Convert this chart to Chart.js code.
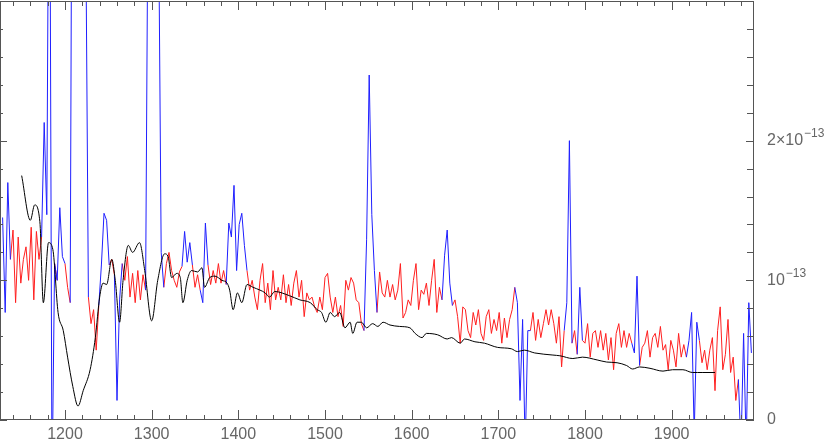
<!DOCTYPE html>
<html>
<head>
<meta charset="utf-8">
<script src="https://cdn.jsdelivr.net/npm/chart.js@4.4.1/dist/chart.umd.min.js"></script>
<style>
  html, body { margin: 0; padding: 0; background: #fff; }
  canvas { display: block; }
</style>
</head>
<body>
<canvas id="chart" width="830" height="441"></canvas>
<script>
/* ── observed spectrum: flux (1e-13 units) on a regular wavelength grid ── */
const specStart = 1125;
const specStep = 3;
const specFlux = [
  null, 1.45, 0.77, 1.70, 1.15, 1.36, 0.84, 1.31, 0.98, 1.15,
  1.24, 1.00, 1.38, 0.86, 1.35, 1.15, 1.31, 2.13, 1.47, 5.0,
  -0.5, 1.12, 1.00, 1.52, 1.17, 1.12, 0.95, 0.84, 6.0, 9.0,
  12.0, 10.0, 7.0, 3.5, 0.88, 0.69, 0.79, 0.50, 0.82, 1.11,
  1.48, 1.43, 1.11, 1.15, 1.04, 0.14, 0.86, 1.12, 1.00, 1.17,
  0.88, 1.05, 0.84, 1.07, 0.86, 1.04, 0.93, 4.0, 8.0, 10.0,
  7.0, 3.6, 1.20, 0.95, 1.12, 1.20, 1.07, 1.00, 0.95, 1.06,
  1.10, 1.35, 1.13, 1.27, 1.11, 0.95, 1.04, 0.93, 0.84, 1.41,
  1.11, 0.97, 1.07, 0.98, 1.12, 0.98, 1.07, 0.97, 1.41, 1.31,
  1.68, 1.07, 1.40, 1.48, 1.25, 1.07, 0.93, 1.00, 0.88, 0.79,
  1.00, 1.12, 0.84, 0.98, 0.79, 1.07, 0.86, 0.95, 0.86, 1.04,
  0.84, 0.97, 0.82, 0.98, 1.07, 0.88, 1.00, 0.74, 0.91, 0.86,
  0.88, 0.81, 0.77, 0.88, 0.79, 1.02, 1.05, 0.88, 0.77, 0.88,
  0.74, 0.82, 0.67, 1.00, 0.93, 1.02, 0.98, 0.86, 0.84, 0.69,
  0.64, 1.29, 2.47, 1.47, 1.07, 0.77, 1.06, 0.91, 0.88, 1.00,
  0.88, 0.97, 0.86, 0.93, 1.12, 0.73, 0.77, 0.86, 0.82, 1.00,
  1.12, 0.79, 0.93, 0.90, 0.98, 0.82, 1.00, 1.15, 0.77, 0.95,
  0.86, 1.18, 1.36, 0.98, 0.82, 0.86, 0.74, 0.55, 0.81, 0.79,
  0.64, 0.59, 0.77, 0.68, 0.79, 0.62, 0.57, 0.74, 0.79, 0.62,
  0.72, 0.64, 0.77, 0.55, 0.73, 0.59, 0.72, 0.79, 0.95, 0.84,
  0.14, 0.72, -0.2, 0.64, 0.64, 0.77, 0.57, 0.72, 0.59, 0.69,
  0.79, 0.68, 0.79, 0.69, 0.55, 0.74, 0.38, 0.64, 0.84, 2.00,
  0.55, 0.64, 0.47, 0.95, 0.57, 0.55, 0.69, 0.45, 0.62, 0.64,
  0.52, 0.64, 0.50, 0.62, 0.43, 0.59, 0.36, 0.62, 0.69, 0.52,
  0.64, 0.52, 0.62, 0.55, 0.48, 1.03, 0.39, 0.52, 0.55, 0.64,
  0.45, 0.59, 0.62, 0.52, 0.67, 0.50, 0.54, 0.36, 0.57, 0.50,
  0.38, 0.62, 0.45, 0.54, 0.45, 0.57, 0.77, -0.1, 0.70, 0.57,
  0.41, 0.50, 0.36, 0.50, 0.59, 0.21, 0.64, 0.81, 0.36, 0.47,
  0.72, 0.34, 0.45, 0.14, 0.29, -0.2, 0.62, -0.2, 0.84, 0.48
];

// wavelength windows drawn in blue (lines / masked parts of the spectrum)
const lineRanges = [
  [1128, 1137], [1173, 1188], [1191, 1200], [1206, 1227], [1239, 1251],
  [1257, 1266], [1293, 1314], [1335, 1347], [1356, 1365], [1386, 1410],
  [1545, 1560], [1635, 1647], [1719, 1737], [1776, 1785], [1791, 1797],
  [1854, 1863], [1917, 1932], [1977, 1992]
];

/* ── smooth model (black) ── */
const modelWave = [
  1150, 1160, 1165, 1171, 1175, 1181, 1186, 1192, 1198, 1203,
  1209, 1215, 1221, 1229, 1235, 1240, 1244, 1248, 1254, 1258,
  1263, 1267, 1273, 1278, 1286, 1292, 1300, 1307, 1315, 1319,
  1323, 1329, 1333, 1336, 1341, 1346, 1353, 1358, 1361, 1367,
  1373, 1381, 1387, 1390, 1394, 1399, 1404, 1410, 1417, 1425,
  1431, 1436, 1442, 1459, 1471, 1483, 1491, 1496, 1501, 1506,
  1511, 1517, 1523, 1529, 1532, 1537, 1542, 1548, 1555, 1561,
  1567, 1575, 1586, 1598, 1604, 1612, 1617, 1630, 1641, 1646,
  1656, 1661, 1673, 1684, 1699, 1715, 1722, 1730, 1742, 1763,
  1771, 1786, 1797, 1814, 1825, 1837, 1848, 1855, 1863, 1875,
  1890, 1901, 1913, 1924, 1930, 1936, 1950
];
const modelFlux = [
  1.75, 1.43, 1.54, 1.42, 0.84, 1.27, 1.22, 0.77, 0.64, 0.45,
  0.24, 0.10, 0.21, 0.36, 0.59, 0.88, 0.98, 0.97, 1.15, 1.00,
  0.70, 1.00, 1.25, 1.20, 1.27, 1.07, 0.71, 1.00, 1.19, 1.17,
  1.02, 1.05, 1.02, 0.84, 1.00, 1.07, 1.06, 1.09, 0.95, 1.02,
  1.03, 1.00, 0.98, 0.93, 0.79, 0.91, 0.84, 0.97, 0.95, 0.93,
  0.91, 0.88, 0.92, 0.89, 0.86, 0.84, 0.79, 0.77, 0.70, 0.77,
  0.74, 0.77, 0.66, 0.70, 0.62, 0.70, 0.70, 0.66, 0.69, 0.67,
  0.70, 0.68, 0.67, 0.66, 0.62, 0.59, 0.62, 0.61, 0.58, 0.59,
  0.55, 0.58, 0.56, 0.55, 0.52, 0.51, 0.49, 0.50, 0.48, 0.465,
  0.46, 0.44, 0.45, 0.43, 0.415, 0.41, 0.39, 0.365, 0.38, 0.37,
  0.35, 0.36, 0.36, 0.34, 0.34, 0.34, 0.34
];

/* ── axes ── */
const xRange = [1125, 1995];
const yRange = [0, 3];
const xMajorTicks = [1200, 1300, 1400, 1500, 1600, 1700, 1800, 1900];
const xMinorStep = 20;
const yMajorStep = 1;
const yMinorStep = 0.2;
const yTickValues = [0, 1, 2];
const yTickLabels = [['0', ''], ['10', '\u221213'], ['2\u00d710', '\u221213']];

const AXIS_COLOR = '#555';
const LABEL_COLOR = '#666';
const FONT = '"Liberation Sans", Arial, sans-serif';

const specWave = specFlux.map((_, i) => specStart + i * specStep);
const onLine = w => lineRanges.some(([a, b]) => w >= a && w <= b);
const insideLine = w => lineRanges.some(([a, b]) => w > a && w < b);

const redData = specWave.map((w, i) => ({ x: w, y: insideLine(w) ? null : specFlux[i] }));
const blueData = specWave.map((w, i) => ({ x: w, y: onLine(w) ? specFlux[i] : null }));
const modelData = modelWave.map((w, i) => ({ x: w, y: modelFlux[i] }));

// box, inward ticks on all four sides, right-hand labels with superscripts
const frameTicks = {
    id: 'frameTicks',
    afterDatasetsDraw(chart) {
        const { ctx, chartArea: a, scales: { x, y } } = chart;
        ctx.save();
        ctx.strokeStyle = AXIS_COLOR;
        ctx.lineWidth = 1;
        ctx.beginPath();
        for (let v = Math.ceil(xRange[0] / xMinorStep) * xMinorStep; v <= xRange[1]; v += xMinorStep) {
            const px = Math.round(x.getPixelForValue(v)) + 0.5;
            const major = xMajorTicks.includes(v);
            ctx.moveTo(px, a.bottom); ctx.lineTo(px, a.bottom - (major ? 10 : 5));
            ctx.moveTo(px, a.top); ctx.lineTo(px, a.top + (major ? 9 : 5));
        }
        const nMinor = Math.round((yRange[1] - yRange[0]) / yMinorStep);
        const perMajor = Math.round(yMajorStep / yMinorStep);
        for (let k = 0; k <= nMinor; k++) {
            const py = Math.round(y.getPixelForValue(yRange[0] + k * yMinorStep)) + 0.5;
            const major = k % perMajor === 0;
            ctx.moveTo(a.right, py); ctx.lineTo(a.right - (major ? 8 : 7), py);
            ctx.moveTo(a.left, py); ctx.lineTo(a.left + (major ? 7 : 3), py);
        }
        ctx.stroke();
        ctx.strokeRect(a.left + 0.5, a.top + 0.5, a.right - a.left - 1, a.bottom - a.top - 1);

        ctx.fillStyle = LABEL_COLOR;
        ctx.textAlign = 'left';
        ctx.textBaseline = 'middle';
        yTickValues.forEach((v, i) => {
            const [main, sup] = yTickLabels[i];
            const py = y.getPixelForValue(v);
            const px = a.right + 13;
            ctx.font = '16px ' + FONT;
            ctx.fillText(main, px, py);
            if (sup) {
                const w = ctx.measureText(main).width;
                ctx.font = '12px ' + FONT;
                ctx.fillText(sup, px + w + 1, py - 7);
            }
        });
        ctx.restore();
    }
};

new Chart(document.getElementById('chart'), {
    type: 'line',
    data: {
        datasets: [
            { data: modelData, borderColor: '#000', borderWidth: 1, pointRadius: 0, cubicInterpolationMode: 'monotone', order: 0 },
            { data: blueData, borderColor: '#1f1fff', borderWidth: 1, pointRadius: 0, tension: 0, spanGaps: false, order: 1 },
            { data: redData, borderColor: '#ff1f1f', borderWidth: 1, pointRadius: 0, tension: 0, spanGaps: false, order: 2 }
        ]
    },
    options: {
        responsive: false,
        animation: false,
        devicePixelRatio: 1,
        events: [],
        layout: { padding: { left: 0, top: 1, right: 76, bottom: 0 } },
        plugins: { legend: { display: false }, tooltip: { enabled: false } },
        scales: {
            x: {
                type: 'linear',
                min: xRange[0], max: xRange[1],
                afterBuildTicks: s => { s.ticks = xMajorTicks.map(v => ({ value: v })); },
                afterFit: s => { s.height = 21; },
                grid: { display: false, drawTicks: false },
                border: { display: false },
                ticks: {
                    color: LABEL_COLOR, padding: 5, maxRotation: 0, autoSkip: false,
                    font: { family: FONT, size: 16 },
                    callback: v => String(v)
                }
            },
            y: {
                type: 'linear', display: false,
                min: yRange[0], max: yRange[1]
            }
        }
    },
    plugins: [frameTicks]
});
</script>
</body>
</html>
